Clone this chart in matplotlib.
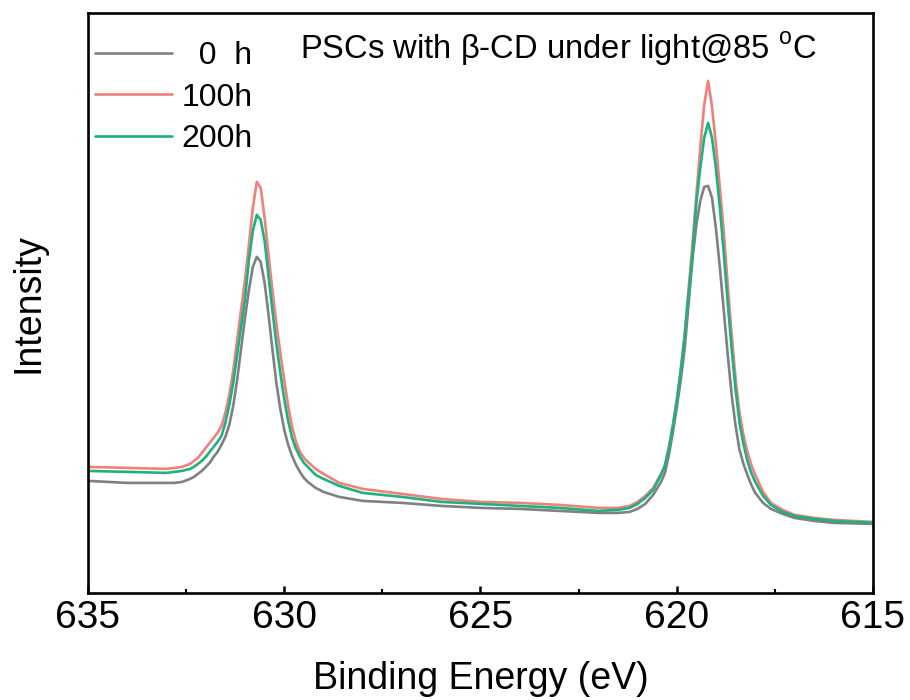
import numpy as np
import matplotlib
matplotlib.use('Agg')
import matplotlib.pyplot as plt
from matplotlib.ticker import MultipleLocator

plt.rcParams['font.family'] = ['Liberation Sans', 'DejaVu Sans']
plt.rcParams['mathtext.fontset'] = 'custom'
plt.rcParams['mathtext.rm'] = 'Liberation Sans'

# binding energy grid (eV) shared by the three scans
energy = [635.0, 634.0, 633.0, 632.8, 632.6, 632.4, 632.3, 632.2, 632.1, 632.0,
          631.9, 631.8, 631.7, 631.6, 631.5, 631.4, 631.3, 631.2, 631.1, 631.0,
          630.9, 630.8, 630.7, 630.6, 630.5, 630.4, 630.3, 630.2, 630.1, 630.0,
          629.9, 629.8, 629.7, 629.6, 629.5, 629.4, 629.2, 629.0, 628.6, 628.0,
          627.0, 626.0, 625.0, 624.0, 623.0, 622.0, 621.5, 621.2, 621.0, 620.8,
          620.6, 620.4, 620.3, 620.2, 620.1, 620.0, 619.9, 619.8, 619.7, 619.6,
          619.5, 619.4, 619.3, 619.2, 619.1, 619.0, 618.9, 618.8, 618.7, 618.6,
          618.5, 618.4, 618.3, 618.2, 618.1, 618.0, 617.8, 617.6, 617.3, 617.0,
          616.5, 616.0, 615.0]

# intensity (a.u.)
int_0h = [112, 110, 110, 110, 111, 114, 116, 119, 122, 126,
          130, 136, 141, 148, 156, 168, 187, 213, 244, 275,
          303, 326, 336, 331, 310, 278, 243, 210, 184, 163,
          148, 137, 128, 121, 115, 111, 105, 101, 96, 92,
          90, 87, 85, 84, 82, 80, 80, 81, 84, 89,
          98, 111, 120, 138, 160, 185, 212, 243, 288, 333,
          368, 392, 406, 407, 395, 364, 325, 282, 238, 198,
          167, 143, 129, 118, 108, 100, 90, 84, 79, 75,
          72, 70, 69]
int_100h = [126, 125, 124, 125, 126, 129, 132, 135, 140, 145,
            150, 155, 160, 167, 180, 198, 222, 253, 283, 313,
            348, 385, 411, 405, 375, 338, 302, 269, 240, 213,
            187, 166, 151, 141, 135, 131, 124, 119, 110, 104,
            99, 94, 91, 90, 88, 85, 85, 87, 91, 97,
            105, 119, 128, 146, 168, 193, 223, 258, 303, 348,
            398, 445, 488, 512, 486, 448, 405, 361, 308, 258,
            214, 180, 158, 141, 128, 118, 101, 90, 83, 78,
            75, 73, 71]
int_200h = [122, 121, 120, 121, 122, 124, 126, 129, 132, 136,
            141, 146, 151, 157, 170, 188, 210, 238, 266, 294,
            333, 362, 378, 373, 352, 317, 282, 249, 220, 194,
            172, 155, 144, 136, 130, 126, 118, 114, 107, 100,
            96, 91, 89, 87, 85, 82, 83, 85, 89, 95,
            103, 118, 127, 144, 166, 191, 221, 255, 298, 338,
            390, 425, 455, 470, 455, 424, 385, 339, 290, 244,
            203, 170, 149, 132, 120, 111, 97, 88, 81, 77,
            74, 72, 70]

labels = ['  0  h', '100h', '200h']
colors = ['#808080', '#f0807a', '#1cb27f']

fig = plt.figure(figsize=(9.1, 7.0), dpi=100)
ax = fig.add_axes([0.0967, 0.153, 0.8626, 0.8286])

for y, lab, c in zip([int_0h, int_100h, int_200h], labels, colors):
    ax.plot(energy, y, color=c, lw=1.9, label=lab,
            solid_joinstyle='round', solid_capstyle='round')

ax.set_xlim(635, 615)
ax.set_ylim(0, 580)
ax.xaxis.set_major_locator(MultipleLocator(5))
ax.xaxis.set_minor_locator(MultipleLocator(2.5))
ax.tick_params(axis='x', which='major', direction='in', length=5, width=1.8,
               labelsize=28, pad=5)
ax.tick_params(axis='x', which='minor', direction='in', length=3, width=1.5)
ax.set_yticks([])
for s in ax.spines.values():
    s.set_linewidth(1.9)

ax.set_xlabel('Binding Energy (eV)', fontsize=27)
ax.xaxis.set_label_coords(0.5, -0.117)
ax.set_ylabel('Intensity', fontsize=27)
ax.yaxis.set_label_coords(-0.053, 0.5)

ax.text(0.27, 0.938, r'PSCs with β-CD under light@85 $^{\rm o}$C',
        transform=ax.transAxes, fontsize=23.6, va='center', ha='left')

ax.legend(loc='upper left', bbox_to_anchor=(0.009, 0.952), frameon=False,
          fontsize=23, handlelength=2.4, handletextpad=0.3, labelspacing=0.37,
          borderaxespad=0, borderpad=0)

fig.savefig('out.png', dpi=100)
